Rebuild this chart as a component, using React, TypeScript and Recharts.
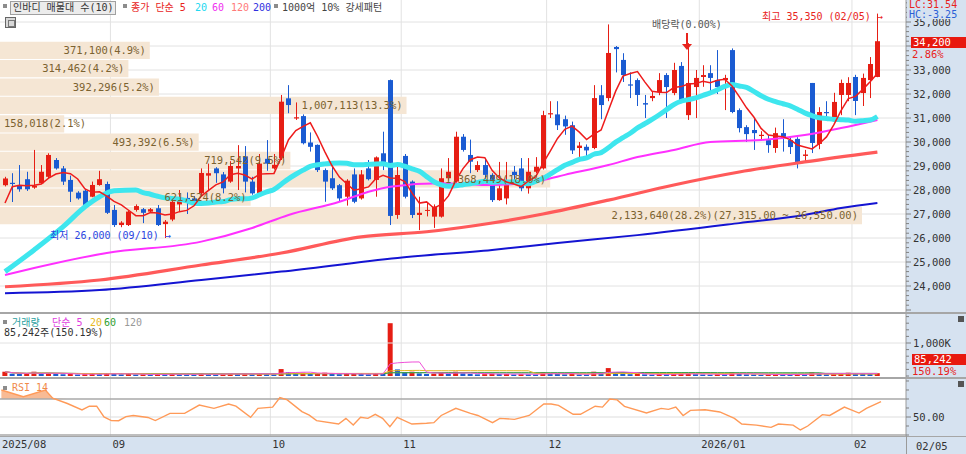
import React from "react"
import {
  ComposedChart,
  Bar,
  Line,
  Area,
  XAxis,
  YAxis,
  CartesianGrid,
  ReferenceArea,
  ReferenceLine,
  Cell,
} from "recharts"

// 인바디 daily, 2025-08-11 ~ 2026-02-05 (121 sessions)
const opens = [
  28200, 28300, 28210, 28450, 28100, 28280, 28550, 29250, 28900, 28420,
  27890, 27970, 27720, 28210, 28250, 27170, 26540, 26540, 27170, 27200,
  27100, 27240, 26580, 26770, 27400, 27670, 27650, 27860, 28600, 28900,
  28650, 28350, 28900, 29400, 28350, 27860, 29300, 28900, 29320, 31820,
  30980, 31080, 29980, 29880, 28830, 28490, 28200, 27720, 28650, 27650,
  28900, 28420, 29530, 32580, 26960, 29420, 28350, 26960, 27150, 26890,
  26890, 28490, 28350, 30220, 29460, 28830, 29040, 28630, 27580, 27650,
  28760, 28900, 28070, 28760, 28900, 31150, 31150, 30950, 30700, 29750,
  29800, 29750, 31950, 31830, 33960, 33420, 32400, 32580, 31620, 31830,
  32080, 32790, 32040, 33170, 31120, 32290, 32710, 32870, 32580, 32580,
  33830, 31330, 30620, 30500, 30250, 30080, 29750, 30370, 30080, 30130,
  29420, 32460, 29920, 31250, 31040, 31960, 31960, 32710, 32040, 32580,
  32710,
]
const highs = [
  28550, 28700, 29040, 28760, 29670, 29040, 29530, 29330, 29000, 28600,
  27950, 28050, 28350, 28800, 28350, 27375, 26700, 27150, 27400, 27250,
  27250, 27375, 26750, 27600, 28000, 27900, 27750, 28900, 29100, 28950,
  28750, 29200, 29870, 29830, 28550, 29500, 30080, 29500, 31960, 32370,
  31650, 31150, 30400, 29900, 28900, 29040, 28250, 28450, 28900, 28830,
  29250, 29400, 30430, 32600, 29130, 29500, 28400, 27720, 27500, 27400,
  28900, 29330, 30430, 30330, 30100, 29200, 29300, 28700, 29170, 29170,
  29000, 29330, 29330, 29370, 31300, 31700, 31700, 31100, 30850, 30000,
  29900, 32370, 32370, 34900, 34000, 33700, 32900, 32650, 31960, 32100,
  32870, 32870, 33300, 33330, 34120, 33000, 33200, 33200, 33830, 32800,
  33900, 31400, 30700, 31000, 30450, 30300, 30600, 30950, 30200, 30200,
  29670, 32460, 31450, 31700, 32050, 32600, 32700, 32800, 32850, 33540,
  35350,
]
const lows = [
  28150, 27500, 27930, 27960, 28050, 28250, 28500, 28850, 28210, 27500,
  27600, 27350, 27700, 28180, 27000, 26460, 26450, 26500, 27100, 26620,
  27050, 26500, 26000, 26700, 27100, 27000, 27450, 27800, 28000, 28300,
  27860, 28300, 28000, 27900, 27800, 27800, 28800, 28850, 29250, 31200,
  30920, 29900, 29600, 28750, 27510, 28000, 27500, 27350, 27450, 27600,
  28400, 27720, 28830, 26540, 26800, 27650, 26830, 26330, 26900, 26420,
  26850, 28400, 28300, 29600, 28700, 28750, 28400, 27500, 27550, 27400,
  28400, 27950, 27850, 28700, 28850, 31000, 30500, 30300, 29500, 29300,
  29300, 29700, 30950, 31700, 32900, 32500, 31830, 31500, 31000, 31700,
  31950, 31000, 31950, 31620, 30920, 31000, 32300, 32100, 32000, 31330,
  31200, 30400, 30000, 29670, 30050, 29550, 29550, 29600, 29500, 28900,
  29170, 29540, 29700, 30950, 31000, 31120, 31700, 31120, 31500, 31830,
  32700,
]
const closes = [
  28480, 28250, 28030, 28030, 28180, 28760, 29460, 28900, 28350, 27930,
  27650, 27380, 28210, 28450, 27050, 26540, 26640, 27100, 27330, 27050,
  27200, 26540, 26680, 27510, 27560, 27460, 27500, 28710, 28700, 28700,
  28070, 29000, 29000, 28350, 27860, 29100, 29100, 29050, 31680, 31540,
  31030, 29950, 29800, 28830, 28350, 28070, 27650, 28390, 27510, 28650,
  28450, 29360, 29110, 26920, 28625, 27720, 26960, 27050, 27170, 27310,
  28490, 28760, 30220, 29670, 29180, 29040, 28630, 27580, 28070, 28350,
  28620, 28070, 28760, 28970, 31120, 31200, 30700, 30650, 29650, 29850,
  29650, 31830, 31540, 33710, 33870, 32790, 32350, 31960, 31560, 31920,
  32580, 32290, 33000, 31750, 32460, 32670, 32790, 32670, 32290, 32670,
  31250, 30580, 30330, 30370, 30300, 29870, 30370, 30170, 29790, 29170,
  29480, 29960, 31250, 31200, 31670, 32460, 32460, 31710, 32670, 33250,
  34200,
]
// thousand shares
const volumesK = [
  130, 70, 60, 60, 130, 80, 90, 60, 55, 60,
  45, 55, 60, 55, 80, 75, 50, 60, 45, 50,
  40, 60, 55, 70, 50, 45, 40, 80, 60, 50,
  55, 70, 65, 70, 55, 75, 60, 50, 210, 120,
  90, 100, 60, 80, 100, 60, 55, 60, 70, 65,
  50, 75, 70, 1600, 200, 120, 130, 80, 60, 70,
  110, 70, 130, 80, 60, 50, 55, 70, 60, 60,
  45, 55, 50, 45, 120, 70, 60, 50, 65, 45,
  40, 130, 90, 240, 90, 70, 55, 60, 50, 40,
  55, 50, 60, 70, 80, 55, 45, 40, 50, 45,
  110, 70, 50, 45, 35, 45, 50, 45, 40, 55,
  40, 110, 80, 50, 55, 70, 100, 65, 60, 57,
  85.242,
]

const ma5LeadVal = [27460, 28140, 28200, 28180]
const ma20LeadIdx = [0, 4, 8, 11, 13, 15, 18]
const ma20LeadVal = [24600, 25500, 26470, 27300, 27720, 27970, 28000]
const ma60Idx = [0, 4, 14, 27, 34, 39, 46, 50, 53, 60, 67, 74, 77, 83, 87, 92, 97, 104, 110, 115, 120]
const ma60Val = [24460, 24750, 25375, 25850, 26420, 26960, 27510, 27930, 28140, 28280, 28210, 28420, 28630, 29040, 29375, 29670, 30000, 30080, 30290, 30580, 30920]
const ma120Idx = [0, 13, 27, 38, 49, 58, 67, 74, 83, 92, 101, 110, 120]
const ma120Val = [23970, 24250, 24875, 25375, 26050, 26260, 26625, 27000, 27580, 28210, 28750, 29170, 29580]
const ma200Idx = [0, 13, 27, 38, 54, 67, 76, 87, 101, 110, 115, 120]
const ma200Val = [23700, 23830, 24250, 24600, 25170, 25500, 25790, 26120, 26620, 26960, 27250, 27460]

const rsiIdx = [
  0, 3, 6, 7, 9, 11, 12, 13, 14, 15, 16, 17, 18, 20, 21, 23, 25, 27, 29, 31,
  32, 34, 35, 37, 38, 39, 41, 42, 43, 46, 47, 48, 49, 50, 51, 52, 53, 54, 56, 58,
  59, 60, 62, 64, 65, 67, 68, 70, 72, 74, 75, 76, 78, 79, 81, 82, 83, 84, 85, 88,
  90, 91, 92, 93, 94, 96, 98, 100, 101, 103, 105, 106, 108, 109, 110, 112, 113, 115, 117, 118,
  120,
]
const rsiVal = [
  80, 72.6, 80, 70.8, 65, 57.8, 62, 62, 50, 46, 45.9, 50.4, 51.7, 49.5, 46, 54, 54, 63.3, 59.6, 64.4,
  62, 49.6, 59.6, 61, 71.5, 69, 56, 52, 46, 42.2, 48.5, 41, 49.6, 48.5, 53, 48.5, 39.3, 49.6, 42.2, 43,
  43.7, 51.7, 59.6, 54, 51.7, 43.7, 48.5, 47.4, 51.7, 64.4, 64.5, 63, 53, 53, 62, 61, 70, 69, 61.8, 54.4,
  59.6, 58.5, 61, 51.7, 57.4, 58, 55.6, 48.5, 42.2, 41, 38.5, 42.2, 41, 35.6, 40, 52.6, 51.7, 61, 54.4, 59.6,
  67,
]

// 매물대 (10 bands from 26,550 to 34,200)
const vpShares = [2133640, 621524, 1368449, 719542, 493392, 158018, 1007113, 392296, 314462, 371100]
const vpPct = [28.2, 8.2, 18.0, 9.5, 6.5, 2.1, 13.3, 5.2, 4.2, 4.9]
const VP_LOW = 26550
const VP_STEP = 765

const monthLabels = ["2025/08", "09", "10", "11", "12", "2026/01", "02"]
const D0 = -0.688
const D1 = 123.934
const monthTicks = [D0, 14.5, 36.5, 54.5, 74.5, 95.5, 116.5]

const RED = "#e61e14"
const BLUE = "#1a5bd2"
const AXIS_BG = "#d6e2f0"
const GRID = "#e2e2e2"
const MONO = "'DejaVu Sans Mono', 'Noto Sans CJK KR', monospace"
const W = 966
const VP_MAX = (28.2 * 906) / 862
const CAT_PAD = { left: 1.37, right: 24.97 }

const avg = (a: number[], from: number, to: number) => {
  let s = 0
  for (let k = from; k <= to; k++) s += a[k]
  return s / (to - from + 1)
}
const sample = (idx: number[], val: number[], i: number) => {
  const k = idx.indexOf(i)
  return k < 0 ? undefined : val[k]
}
const fmt = (v: number) => v.toLocaleString("en-US")

const priceRows = closes.map((c, i) => ({
  i,
  open: opens[i],
  high: highs[i],
  low: lows[i],
  close: c,
  ma5: i >= 4 ? avg(closes, i - 4, i) : ma5LeadVal[i],
  ma20: i >= 19 ? avg(closes, i - 19, i) : sample(ma20LeadIdx, ma20LeadVal, i),
  ma60: sample(ma60Idx, ma60Val, i),
  ma120: sample(ma120Idx, ma120Val, i),
  ma200: sample(ma200Idx, ma200Val, i),
}))

const volRows = volumesK.map((v, i) => ({
  i,
  vol: v * 1000,
  m5: avg(volumesK, Math.max(0, i - 4), i) * 1000,
  m20: avg(volumesK, Math.max(0, i - 19), i) * 1000,
  m60: avg(volumesK, Math.max(0, i - 59), i) * 1000,
  m120: avg(volumesK, Math.max(0, i - 119), i) * 1000,
}))

const rsiRows = closes.map((_, i) => {
  const v = sample(rsiIdx, rsiVal, i)
  return { i, rsi: v, hot: v === undefined ? undefined : Math.max(v, 70) }
})

const priceTicks: number[] = []
for (let v = 23000; v <= 35800; v += 200) priceTicks.push(v)
const priceGrid = [24000, 25000, 26000, 27000, 28000, 29000, 30000, 31000, 32000, 33000, 34000, 35000]
const priceLabelled = [24000, 25000, 26000, 27000, 28000, 29000, 30000, 31000, 32000, 33000, 35000]
const volTicks = [0, 200000, 400000, 600000, 800000, 1000000, 1200000, 1400000, 1600000, 1800000]
const rsiTicks = [30, 40, 50, 60, 70, 80, 90]

const scaleOf = (axis: any, v: number): number | undefined => {
  const s = axis?.scale
  if (typeof s === "function") return s(v)
  if (s && typeof s.map === "function") return s.map(v)
  return undefined
}
const monthGridGen = (a: any) =>
  monthTicks.slice(1).map((v) => scaleOf(a.xAxis, v) ?? a.offset.left + ((v - D0) / (D1 - D0)) * a.offset.width)

function Candle(props: any) {
  const { x, y, width, height, payload } = props
  const { open, close, high, low } = payload
  const color = close >= open ? RED : BLUE
  const k = height / (high - low || 1)
  const yO = y + (high - open) * k
  const yC = y + (high - close) * k
  const top = Math.min(yO, yC)
  const h = Math.max(1, Math.abs(yO - yC))
  const cx = Math.round(x + width / 2) + 0.5
  return (
    <g>
      <line x1={cx} x2={cx} y1={y} y2={y + Math.max(height, 1)} stroke={color} strokeWidth={1} />
      <rect x={cx - 2.5} y={top} width={5} height={h} fill={color} />
    </g>
  )
}

// the axis passes x = axis edge + 2 (tick margin)
function AxisTick(props: any) {
  const { x, y, payload, major, label } = props
  const v = payload.value as number
  const isMajor = major(v)
  const x0 = x - 2
  const text = isMajor ? label(v) : ""
  return (
    <g>
      <line x1={x0} x2={x0 + (isMajor ? 5 : 3)} y1={y} y2={y} stroke="#808080" />
      {text && (
        <text x={x0 + 7} y={y} dy="0.35em" fontSize={10.5} fontFamily={MONO} fill="#333">
          {text}
        </text>
      )}
    </g>
  )
}

// month labels sit in the 18px strip under the RSI pane (chart is 75px tall)
function MonthTick(props: any) {
  const { x, index } = props
  return (
    <text x={x + 2} y={69} fontSize={10.5} fontFamily={MONO} fill="#333">
      {monthLabels[index] ?? ""}
    </text>
  )
}

const lineProps = { dot: false, activeDot: false, isAnimationActive: false } as const

function PriceChart() {
  return (
    <ComposedChart width={W} height={312} data={priceRows} margin={{ top: 0, right: 0, bottom: 0, left: 0 }}>
      <XAxis xAxisId="c" dataKey="i" type="category" hide padding={CAT_PAD} />
      <XAxis xAxisId="p" dataKey="i" type="number" domain={[D0, D1]} hide allowDataOverflow />
      <XAxis xAxisId="vp" dataKey="i" type="number" domain={[0, VP_MAX]} hide allowDataOverflow />
      <YAxis
        yAxisId="y"
        orientation="right"
        width={60}
        domain={[22917, 35917]}
        ticks={priceTicks}
        interval={0}
        allowDataOverflow
        tickLine={false}
        tickSize={0}
        tickMargin={2}
        axisLine={{ stroke: "#9a9a9a" }}
        tick={(p: any) => (
          <AxisTick {...p} major={(v: number) => v % 1000 === 0} label={(v: number) => (priceLabelled.includes(v) ? fmt(v) : "")} />
        )}
      />
      <CartesianGrid
        xAxisId="p"
        yAxisId="y"
        stroke={GRID}
        horizontalCoordinatesGenerator={(a: any) =>
          priceGrid.map((v) => scaleOf(a.yAxis, v) ?? a.offset.top + ((35917 - v) / 13000) * a.offset.height)
        }
        verticalCoordinatesGenerator={monthGridGen}
      />
      {vpShares.map((s, k) => (
        <ReferenceArea
          key={k}
          xAxisId="vp"
          yAxisId="y"
          x1={0}
          x2={vpPct[k]}
          y1={VP_LOW + k * VP_STEP + 25}
          y2={VP_LOW + (k + 1) * VP_STEP - 20}
          fill="#f5e6d4"
          fillOpacity={1}
          stroke="none"
          label={{
            value:
              `${fmt(s)}(${vpPct[k].toFixed(1)}%)` +
              (k === 0 ? `(${fmt(VP_LOW + VP_STEP)}.00 ~ ${fmt(VP_LOW)}.00)` : ""),
            position: k === 5 ? "insideLeft" : "insideRight",
            offset: 4,
            fill: "#7b6230",
            fontSize: 10.5,
            fontFamily: MONO,
          }}
        />
      ))}
      <Line xAxisId="c" yAxisId="y" dataKey="ma200" type="monotone" stroke="#1414d2" strokeWidth={2} connectNulls {...lineProps} />
      <Line xAxisId="c" yAxisId="y" dataKey="ma120" type="monotone" stroke="#ff5a5a" strokeWidth={3.2} connectNulls {...lineProps} />
      <Line xAxisId="c" yAxisId="y" dataKey="ma60" type="monotone" stroke="#ff30ff" strokeWidth={2} connectNulls {...lineProps} />
      <Line xAxisId="c" yAxisId="y" dataKey="ma20" type="monotone" stroke="#3ee6ee" strokeWidth={5} connectNulls {...lineProps} />
      <Bar
        xAxisId="c"
        yAxisId="y"
        dataKey={(d: any) => [d.low, d.high]}
        barSize={5}
        shape={(p: any) => <Candle {...p} />}
        isAnimationActive={false}
      />
      <Line xAxisId="c" yAxisId="y" dataKey="ma5" type="linear" stroke="#ee1c1c" strokeWidth={1.5} connectNulls {...lineProps} />
    </ComposedChart>
  )
}

function VolumeChart() {
  return (
    <ComposedChart width={W} height={63} data={volRows} margin={{ top: 0, right: 0, bottom: 0, left: 0 }}>
      <XAxis xAxisId="c" dataKey="i" type="category" hide padding={CAT_PAD} />
      <XAxis xAxisId="p" dataKey="i" type="number" domain={[D0, D1]} hide allowDataOverflow />
      <YAxis
        yAxisId="v"
        orientation="right"
        width={60}
        domain={[-30300, 1878800]}
        ticks={volTicks}
        interval={0}
        allowDataOverflow
        tickLine={false}
        tickSize={0}
        tickMargin={2}
        axisLine={{ stroke: "#9a9a9a" }}
        tick={(p: any) => <AxisTick {...p} major={(v: number) => v === 1000000} label={() => "1,000K"} />}
      />
      <CartesianGrid xAxisId="p" yAxisId="v" stroke={GRID} horizontal={false} verticalCoordinatesGenerator={monthGridGen} />
      <ReferenceLine xAxisId="p" yAxisId="v" y={1000000} stroke={GRID} />
      <Bar xAxisId="c" yAxisId="v" dataKey="vol" barSize={5} isAnimationActive={false}>
        {volumesK.map((v, i) => (
          <Cell key={i} fill={i > 0 && v < volumesK[i - 1] ? BLUE : RED} />
        ))}
      </Bar>
      <Line xAxisId="c" yAxisId="v" dataKey="m120" stroke="#a8a8a8" strokeWidth={1} {...lineProps} />
      <Line xAxisId="c" yAxisId="v" dataKey="m60" stroke="#2aa040" strokeWidth={1} {...lineProps} />
      <Line xAxisId="c" yAxisId="v" dataKey="m20" stroke="#e6b820" strokeWidth={1} {...lineProps} />
      <Line xAxisId="c" yAxisId="v" dataKey="m5" stroke="#f050d8" strokeWidth={1} {...lineProps} />
    </ComposedChart>
  )
}

function RsiChart() {
  return (
    <ComposedChart width={W} height={75} data={rsiRows} margin={{ top: 0, right: 0, bottom: 0, left: 0 }}>
      <XAxis xAxisId="c" dataKey="i" type="category" hide padding={CAT_PAD} />
      <XAxis
        xAxisId="p"
        dataKey="i"
        type="number"
        domain={[D0, D1]}
        allowDataOverflow
        ticks={monthTicks}
        interval={0}
        height={18}
        tickLine={false}
        axisLine={false}
        tickSize={0}
        tickMargin={2}
        tick={(p: any) => <MonthTick {...p} />}
      />
      <YAxis
        yAxisId="r"
        orientation="right"
        width={60}
        domain={[28.9, 92.2]}
        ticks={rsiTicks}
        interval={0}
        allowDataOverflow
        tickLine={false}
        tickSize={0}
        tickMargin={2}
        axisLine={{ stroke: "#9a9a9a" }}
        tick={(p: any) => <AxisTick {...p} major={(v: number) => v === 50} label={(v: number) => v.toFixed(2)} />}
      />
      <CartesianGrid xAxisId="p" yAxisId="r" stroke={GRID} horizontal={false} verticalCoordinatesGenerator={monthGridGen} />
      <ReferenceLine xAxisId="p" yAxisId="r" y={50} stroke="#dddddd" />
      <ReferenceLine xAxisId="p" yAxisId="r" y={70} stroke="#a9a9a9" strokeWidth={1.5} />
      <ReferenceLine xAxisId="p" yAxisId="r" y={30} stroke="#a9a9a9" strokeWidth={1.5} />
      <Area
        xAxisId="c"
        yAxisId="r"
        dataKey="hot"
        baseValue={70}
        type="linear"
        stroke="none"
        fill="#f7b48a"
        fillOpacity={0.9}
        connectNulls
        {...lineProps}
      />
      <Line xAxisId="c" yAxisId="r" dataKey="rsi" type="linear" stroke="#ff9a58" strokeWidth={1.4} connectNulls {...lineProps} />
    </ComposedChart>
  )
}

const abs = (left: number, top: number, extra: React.CSSProperties = {}): React.CSSProperties => ({
  position: "absolute",
  left,
  top,
  fontSize: 10.5,
  lineHeight: "12px",
  fontFamily: MONO,
  whiteSpace: "pre",
  ...extra,
})
const sq = (left: number, top: number) => (
  <div style={{ position: "absolute", left, top, width: 4, height: 4, background: "#8c8c8c" }} />
)

export default function App() {
  return (
    <div style={{ position: "relative", width: W, height: 454, overflow: "hidden", background: "#fff", fontFamily: MONO }}>
      <style>{"body{margin:0}"}</style>
      <div style={{ position: "absolute", left: 906, top: 0, width: 60, height: 454, background: AXIS_BG }} />
      <div style={{ position: "absolute", left: 0, top: 436, width: W, height: 18, background: AXIS_BG }} />

      <div style={{ position: "absolute", left: 0, top: 0 }}>
        <PriceChart />
      </div>
      <div style={{ position: "absolute", left: 0, top: 314 }}>
        <VolumeChart />
      </div>
      <div style={{ position: "absolute", left: 0, top: 379 }}>
        <RsiChart />
      </div>

      {/* panel separators */}
      <div style={{ position: "absolute", left: 0, top: 312, width: W, height: 2, background: "#a6a6a6" }} />
      <div style={{ position: "absolute", left: 0, top: 377, width: W, height: 2, background: "#a6a6a6" }} />
      <div style={{ position: "absolute", left: 0, top: 436, width: W, height: 1, background: "#a6a6a6" }} />
      <div style={{ position: "absolute", left: 906, top: 436, width: 1, height: 18, background: "#9a9a9a" }} />

      {/* price legend */}
      {sq(3, 4)}
      <div style={abs(10, 1, { width: 106, height: 14, border: "1px solid #a0a0a0", background: "#ececec", boxSizing: "border-box" })} />
      <div style={abs(13, 2, { color: "#333", fontSize: 10 })}>인바디 매물대 수(10)</div>
      {sq(123, 4)}
      <div style={abs(131, 2, { color: "#e8231c", fontSize: 10 })}>종가 단순 5</div>
      <div style={abs(195, 2, { color: "#22d8f0", fontSize: 10 })}>20</div>
      <div style={abs(212, 2, { color: "#f030f0", fontSize: 10 })}>60</div>
      <div style={abs(231, 2, { color: "#ff7a7a", fontSize: 10 })}>120</div>
      <div style={abs(253, 2, { color: "#3030e0", fontSize: 10 })}>200</div>
      {sq(274, 4)}
      <div style={abs(282, 2, { color: "#444", fontSize: 10 })}>1000억 10% 강세패턴</div>
      <div style={{ position: "absolute", left: 5, top: 17, width: 11, height: 11, border: "1px solid #666", background: "#d8d8d8", boxSizing: "border-box" }}>
        <div style={{ position: "absolute", left: 2, top: 2, width: 5, height: 5, border: "1px solid #777" }} />
      </div>

      {/* annotations */}
      <div style={abs(50, 230, { color: "#2b45e0", fontSize: 10 })}>최저 26,000 (09/10) →</div>
      <div style={abs(762, 11, { color: "#e8231c", fontSize: 10 })}>최고 35,350 (02/05) →</div>
      <div style={abs(652, 19, { color: "#555", fontSize: 10 })}>배당락(0.00%)</div>
      <div style={{ position: "absolute", left: 686, top: 33, width: 1.5, height: 12, background: "#e8231c" }} />
      <div
        style={{
          position: "absolute",
          left: 682,
          top: 44,
          width: 0,
          height: 0,
          borderLeft: "5px solid transparent",
          borderRight: "5px solid transparent",
          borderTop: "6px solid #e8231c",
        }}
      />

      {/* right axis overlays */}
      <div style={{ position: "absolute", left: 907, top: 0, width: 59, height: 19, background: AXIS_BG }} />
      <div style={abs(909, 0, { color: "#e8231c", fontSize: 10, lineHeight: "9px" })}>LC:31.54</div>
      <div style={abs(909, 10, { color: "#2a5fd6", fontSize: 10, lineHeight: "9px" })}>HC:-3.25</div>
      <div style={abs(911, 37, { width: 55, height: 11, background: "#e8190f", color: "#fff", lineHeight: "11px", paddingLeft: 2 })}>34,200</div>
      <div style={abs(912, 48, { color: "#e8231c" })}>2.86%</div>

      {/* volume legend */}
      {sq(3, 320)}
      <div style={abs(12, 317, { color: "#2aa0a0", fontSize: 10 })}>거래량</div>
      <div style={abs(52, 317, { color: "#e040e0", fontSize: 10 })}>단순 5</div>
      <div style={abs(90, 317, { color: "#e8b820", fontSize: 10 })}>20</div>
      <div style={abs(104, 317, { color: "#30a030", fontSize: 10 })}>60</div>
      <div style={abs(124, 317, { color: "#999", fontSize: 10 })}>120</div>
      <div style={abs(4, 327, { color: "#333", fontSize: 10 })}>85,242주(150.19%)</div>
      <div style={abs(912, 354, { width: 54, height: 11, background: "#e8190f", color: "#fff", lineHeight: "11px", paddingLeft: 2 })}>85,242</div>
      <div style={abs(912, 365, { color: "#e8231c" })}>150.19%</div>
      <div style={{ position: "absolute", left: 958, top: 316, width: 6, height: 6, background: "#555" }} />

      {/* rsi legend */}
      {sq(3, 386)}
      <div style={abs(12, 382, { color: "#f08a4a", fontSize: 10 })}>RSI 14</div>
      <div style={{ position: "absolute", left: 958, top: 381, width: 6, height: 6, background: "#555" }} />

      <div style={abs(916, 440, { color: "#333" })}>02/05</div>
    </div>
  )
}
